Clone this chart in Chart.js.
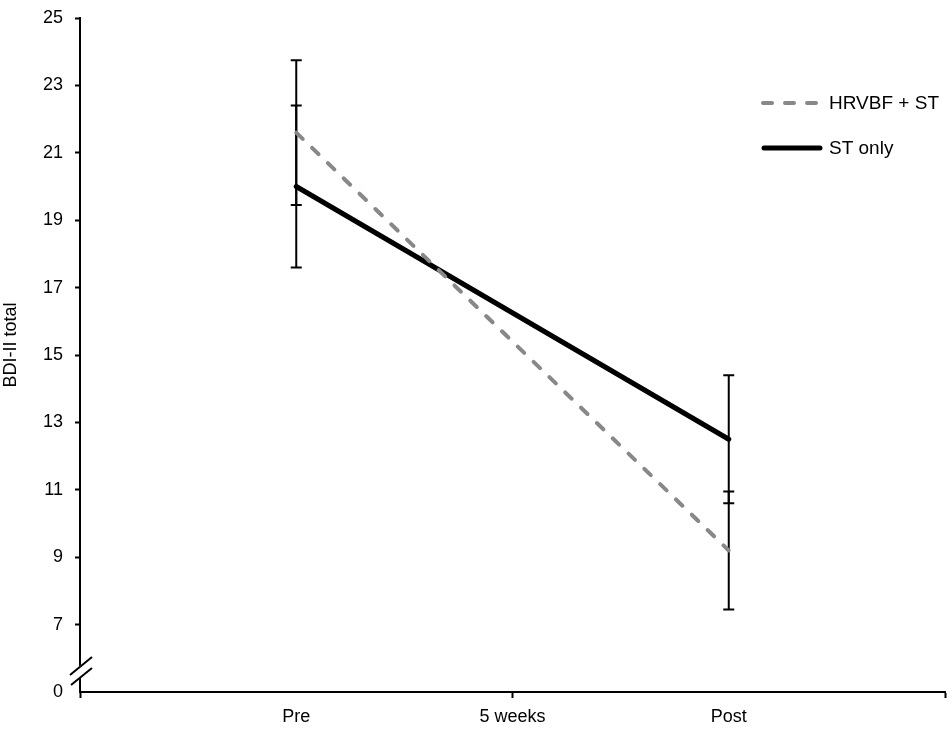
<!DOCTYPE html>
<html>
<head>
<meta charset="utf-8">
<script src="https://cdn.jsdelivr.net/npm/chart.js@4/dist/chart.umd.min.js"></script>
<style>
  html, body { margin: 0; padding: 0; background: #fff; }
  #wrap { width: 950px; height: 732px; position: relative; }
</style>
</head>
<body>
<div id="wrap"><canvas id="c" width="950" height="732"></canvas></div>
<script>
// ---- data ----
const categories = ['Pre', '5 weeks', 'Post'];
const seriesNames = ['HRVBF + ST', 'ST only'];
const hrvbfMean = [21.6, null, 9.2];
const hrvbfErr  = [2.15, null, 1.75];
const stMean    = [20.0, null, 12.5];
const stErr     = [2.4, null, 1.9];
const yTickValues = [5, 7, 9, 11, 13, 15, 17, 19, 21, 23, 25];
const yTickLabels = ['0', '7', '9', '11', '13', '15', '17', '19', '21', '23', '25'];
const yTitle = 'BDI-II total';

const FONT = "'Liberation Sans', Arial, Helvetica, sans-serif";
const GRAY = '#888888';

// category scale positions: empty slots at both ends
const xLabels = ['', ...categories, ''];
const pad = arr => [null, ...arr, null];

const errorBarPlugin = {
  id: 'errorBars',
  beforeDatasetsDraw(chart) {
    const ctx = chart.ctx;
    const xs = chart.scales.x, ys = chart.scales.y;
    const sets = [[hrvbfMean, hrvbfErr], [stMean, stErr]];
    ctx.save();
    ctx.strokeStyle = '#000';
    ctx.lineWidth = 2;
    sets.forEach(([m, e]) => {
      m.forEach((v, i) => {
        if (v == null || e[i] == null) return;
        const x = xs.getPixelForValue(i + 1);
        const yTop = ys.getPixelForValue(v + e[i]);
        const yBot = ys.getPixelForValue(v - e[i]);
        ctx.beginPath();
        ctx.moveTo(x, yTop); ctx.lineTo(x, yBot);
        ctx.moveTo(x - 5.5, yTop); ctx.lineTo(x + 5.5, yTop);
        ctx.moveTo(x - 5.5, yBot); ctx.lineTo(x + 5.5, yBot);
        ctx.stroke();
      });
    });
    ctx.restore();
  },
  afterDraw(chart) {
    const ctx = chart.ctx;
    const a = chart.chartArea;
    ctx.save();
    // axis break
    const L = a.left, B = a.bottom;
    ctx.fillStyle = '#fff';
    ctx.beginPath();
    ctx.moveTo(L - 3, B - 11); ctx.lineTo(L + 3, B - 16);
    ctx.lineTo(L + 3, B - 29); ctx.lineTo(L - 3, B - 24);
    ctx.closePath(); ctx.fill();
    ctx.strokeStyle = '#000';
    ctx.lineWidth = 2;
    ctx.beginPath();
    ctx.moveTo(L - 10, B - 17); ctx.lineTo(L + 12, B - 35);
    ctx.moveTo(L - 9, B - 7); ctx.lineTo(L + 12, B - 24);
    ctx.stroke();

    // y-axis title
    ctx.save();
    ctx.font = '18px ' + FONT;
    ctx.fillStyle = '#000';
    ctx.textAlign = 'center';
    ctx.textBaseline = 'alphabetic';
    ctx.translate(16, (a.top + a.bottom) / 2 - 10);
    ctx.rotate(-Math.PI / 2);
    ctx.fillText(yTitle, 0, 0);
    ctx.restore();

    // legend
    ctx.font = '19px ' + FONT;
    ctx.textBaseline = 'middle';
    ctx.textAlign = 'left';
    ctx.fillStyle = '#000';
    // gray dashed
    ctx.strokeStyle = GRAY;
    ctx.lineWidth = 4;
    ctx.lineCap = 'round';
    ctx.setLineDash([9, 13]);
    ctx.beginPath(); ctx.moveTo(763, 103); ctx.lineTo(818, 103); ctx.stroke();
    ctx.setLineDash([]);
    ctx.fillText(seriesNames[0], 829, 104);
    // black solid
    ctx.strokeStyle = '#000';
    ctx.lineWidth = 5;
    ctx.beginPath(); ctx.moveTo(764, 148); ctx.lineTo(820, 148); ctx.stroke();
    ctx.fillText(seriesNames[1], 829, 149);
    ctx.restore();
  }
};

new Chart(document.getElementById('c'), {
  type: 'line',
  data: {
    labels: xLabels,
    datasets: [
      {
        label: seriesNames[0],
        data: pad(hrvbfMean),
        borderColor: GRAY,
        borderWidth: 4,
        borderDash: [9, 13],
        borderCapStyle: 'round',
        pointRadius: 0,
        spanGaps: true,
        tension: 0
      },
      {
        label: seriesNames[1],
        data: pad(stMean),
        borderColor: '#000',
        borderWidth: 5,
        borderCapStyle: 'round',
        pointRadius: 0,
        spanGaps: true,
        tension: 0
      }
    ]
  },
  options: {
    responsive: false,
    animation: false,
    layout: { padding: { top: 18, right: 5, left: 0, bottom: 0 } },
    plugins: { legend: { display: false }, tooltip: { enabled: false } },
    scales: {
      x: {
        type: 'category',
        offset: false,
        border: { display: true, color: '#000', width: 2 },
        grid: {
          drawOnChartArea: false,
          drawTicks: true,
          tickLength: 6,
          tickWidth: 2,
          tickColor: c => (c.index % 2 === 0 ? '#000' : 'rgba(0,0,0,0)')
        },
        ticks: {
          autoSkip: false,
          maxRotation: 0,
          padding: 8,
          color: '#000',
          font: { family: FONT, size: 18 }
        },
        afterFit: s => { s.height = 40; s.paddingLeft = 0; s.paddingRight = 0; }
      },
      y: {
        type: 'linear',
        min: 5,
        max: 25,
        border: { display: true, color: '#000', width: 2 },
        grid: {
          drawOnChartArea: false,
          drawTicks: true,
          tickLength: 5,
          tickWidth: 2,
          tickColor: c => (c.tick && c.tick.value === 5 ? 'rgba(0,0,0,0)' : '#000')
        },
        afterBuildTicks: s => { s.ticks = yTickValues.map(v => ({ value: v })); },
        ticks: {
          autoSkip: false,
          padding: 12,
          color: '#000',
          font: { family: FONT, size: 18 },
          callback: v => yTickLabels[yTickValues.indexOf(v)]
        },
        afterFit: s => { s.width = 80; s.paddingTop = 0; s.paddingBottom = 0; }
      }
    }
  },
  plugins: [errorBarPlugin]
});
</script>
</body>
</html>
